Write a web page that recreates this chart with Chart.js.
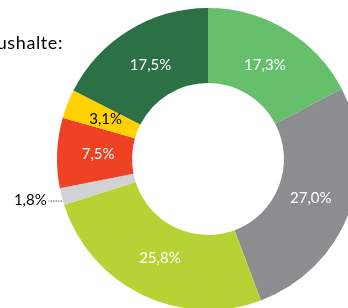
<!DOCTYPE html>
<html lang="de">
<head>
<meta charset="UTF-8">
<title>Haushalte</title>
<script src="https://cdn.jsdelivr.net/npm/chart.js"></script>
<style>
    html, body {
        margin: 0;
        padding: 0;
        width: 348px;
        height: 308px;
        overflow: hidden;
        background: #fff;
    }
    #chart {
        display: block;
    }
</style>
</head>
<body>
<canvas id="chart" width="416" height="318"></canvas>
<script>
    const titleText = "Haushalte:";
    const categories = ["A", "B", "C", "D", "E", "F", "G"];
    const shares = [17.3, 27.0, 25.8, 1.8, 7.5, 3.1, 17.5];
    const sliceColors = ["#66bf6b", "#8c8d8f", "#b5d334", "#d1d2d4", "#ef4123", "#ffd200", "#2c7045"];
    const labelColors = ["#fff", "#fff", "#fff", "#000", "#fff", "#000", "#fff"];
    const outsideLabels = [3]; // index of slice labelled outside the ring

    const fmt = v => v.toFixed(1).replace(".", ",") + "%";
    const FONT = "Lato, 'Noto Sans', sans-serif";

    const labelPlugin = {
        id: "sliceLabels",
        afterDatasetsDraw(chart) {
            const ctx = chart.ctx;
            const meta = chart.getDatasetMeta(0);
            ctx.save();
            ctx.font = "15px " + FONT;
            ctx.textAlign = "center";
            ctx.textBaseline = "middle";
            meta.data.forEach((arc, i) => {
                const p = arc.getProps(["x", "y", "startAngle", "endAngle", "innerRadius", "outerRadius"], true);
                const mid = (p.startAngle + p.endAngle) / 2;
                if (outsideLabels.includes(i)) {
                    const ox = p.x + Math.cos(mid) * p.outerRadius;
                    const oy = p.y + Math.sin(mid) * p.outerRadius + 4;
                    ctx.strokeStyle = "#000";
                    ctx.lineWidth = 1;
                    ctx.setLineDash([1, 1.5]);
                    ctx.beginPath();
                    ctx.moveTo(ox, oy + 0.5);
                    ctx.lineTo(ox - 13, oy + 0.5);
                    ctx.stroke();
                    ctx.setLineDash([]);
                    ctx.fillStyle = "#000";
                    ctx.textAlign = "right";
                    ctx.fillText(fmt(shares[i]), ox - 15, oy);
                    ctx.textAlign = "center";
                    return;
                }
                const r = 110;
                ctx.fillStyle = labelColors[i];
                ctx.fillText(fmt(shares[i]), p.x + Math.cos(mid) * r, p.y + Math.sin(mid) * r);
            });
            // title, cut at the left edge like the original
            ctx.fillStyle = "#000";
            ctx.font = "18px " + FONT;
            ctx.letterSpacing = "0.6px";
            ctx.textAlign = "right";
            ctx.textBaseline = "alphabetic";
            ctx.fillText(titleText, 63, 49);
            ctx.restore();
        }
    };

    new Chart(document.getElementById("chart"), {
        type: "doughnut",
        data: {
            labels: categories,
            datasets: [{
                data: shares,
                backgroundColor: sliceColors,
                borderWidth: 0
            }]
        },
        options: {
            responsive: false,
            animation: false,
            cutout: "50.3%",
            layout: { padding: 8 },
            plugins: {
                legend: { display: false },
                tooltip: { enabled: false }
            }
        },
        plugins: [labelPlugin]
    });
</script>
</body>
</html>
